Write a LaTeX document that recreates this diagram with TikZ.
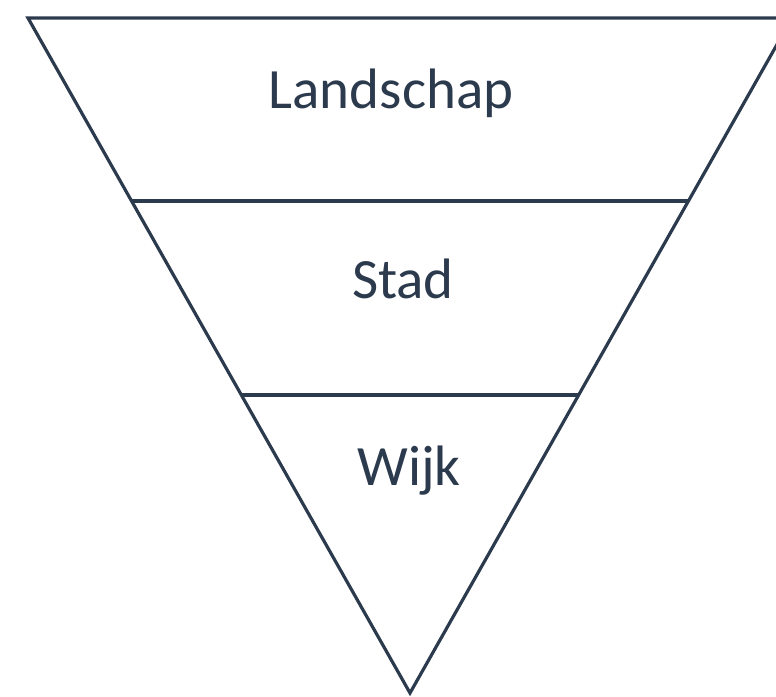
\documentclass[tikz,border=0pt]{standalone}
\usepackage{fontspec}
\setmainfont{Carlito}
\definecolor{slate}{HTML}{2C3A4D}
\begin{document}
\begin{tikzpicture}[x=1pt,y=-1pt,
  edge/.style={draw=slate,line width=3.2pt,line join=miter},
  tier/.style={text=slate,font=\fontsize{57}{68}\selectfont,anchor=base,inner sep=0pt}]
\useasboundingbox (0,0) rectangle (776,696);
% inverted triangle, its right corner running past the frame
\coordinate (tl) at (28,18);
\coordinate (tr) at (792,18);
\coordinate (ap) at (410,693);
\draw[edge] (tl) -- (tr) -- (ap) -- cycle;
% dividing lines
\coordinate (a1) at (131,201);
\coordinate (b1) at (689,201);
\coordinate (a2) at (242,395);
\coordinate (b2) at (578,395);
\draw[edge] (a1) -- (b1);
\draw[edge] (a2) -- (b2);
% tier labels
\node[tier] (land) at (391,108) {Landschap};
\node[tier] (stad) at (403,298) {Stad};
\node[tier] (wijk) at (409,485) {Wijk};
\end{tikzpicture}
\end{document}
